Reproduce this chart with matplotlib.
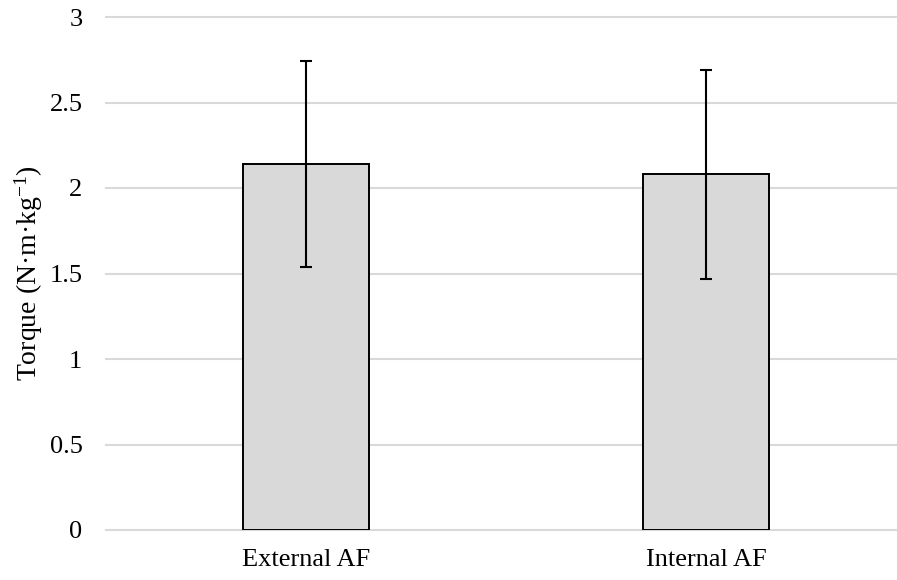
import matplotlib.pyplot as plt

# data
kategori = ["External AF", "Internal AF"]
rata = [2.14, 2.08]
sd = [0.60, 0.61]
yticks = [0, 0.5, 1, 1.5, 2, 2.5, 3]

plt.rcParams['font.family'] = ['Liberation Serif', 'DejaVu Serif']
plt.rcParams['mathtext.fontset'] = 'custom'
plt.rcParams['mathtext.rm'] = 'Liberation Serif'
plt.rcParams['mathtext.it'] = 'Liberation Serif:italic'

fig = plt.figure(figsize=(8.97, 5.8), dpi=100)
ax = fig.add_axes([106 / 897, 50 / 580, 1 - 106 / 897, 513 / 580])

x = list(range(len(kategori)))
ax.bar(x, rata, width=0.315, color='#d9d9d9', edgecolor='black', linewidth=1.4, zorder=3)
ax.errorbar(x, rata, yerr=sd, fmt='none', ecolor='black', elinewidth=1.5,
            capsize=4.3, capthick=1.5, zorder=4)

ax.set_ylim(0, 3)
ax.set_xlim(-0.5, 1.5 - 9 / 400)
ax.set_yticks(yticks)
ax.set_yticklabels([f"{v:g}" for v in yticks])
ax.set_xticks(x)
ax.set_xticklabels(kategori)
ax.grid(axis='y', color='#d9d9d9', linewidth=1.5, zorder=0)
for g in ax.get_ygridlines():
    g.set_clip_on(False)
ax.set_axisbelow(True)
for s in ax.spines.values():
    s.set_visible(False)
ax.tick_params(axis='both', length=0, labelsize=19, colors='black')
ax.tick_params(axis='y', pad=17)
ax.tick_params(axis='x', pad=14)
ax.set_ylabel("Torque (N·m·kg$^{-1}$)", fontsize=20, labelpad=3)

fig.savefig("out.png", dpi=100)
